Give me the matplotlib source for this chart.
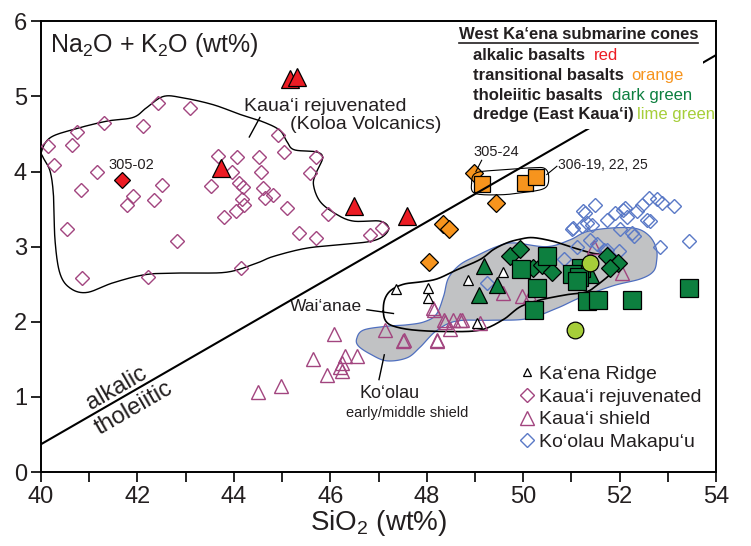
import numpy as np
import matplotlib
matplotlib.use("Agg")
import matplotlib.pyplot as plt
from matplotlib.lines import Line2D
from matplotlib.patches import Polygon, Rectangle
from matplotlib.ticker import MultipleLocator

plt.rcParams['font.family'] = ['Liberation Sans', 'DejaVu Sans']
plt.rcParams['mathtext.fontset'] = 'custom'
plt.rcParams['mathtext.rm'] = 'Liberation Sans'
plt.rcParams['mathtext.default'] = 'rm'

# ---------------- data ----------------
# Kaua'i rejuvenated (Koloa) - open purple diamonds
rej_x = [40.15, 40.26, 40.75, 40.65, 41.31, 42.11, 42.43, 43.09, 41.16, 40.83, 42.50, 41.91, 41.78,
         42.35, 40.53, 42.82, 40.84, 42.21, 44.15, 43.67, 44.06, 44.52, 44.91, 45.03, 45.71, 45.57,
         44.56, 43.97, 43.53, 44.11, 44.18, 44.60, 44.82, 44.65, 44.16, 44.21, 44.05, 43.80, 45.10,
         45.96, 45.35, 45.70, 46.83, 47.07]
rej_y = [4.34, 4.09, 4.52, 4.35, 4.64, 4.60, 4.91, 4.85, 4.00, 3.75, 3.82, 3.67, 3.55,
         3.62, 3.23, 3.08, 2.58, 2.59, 2.71, 4.21, 4.19, 4.20, 4.49, 4.26, 4.20, 3.98,
         3.99, 3.99, 3.81, 3.85, 3.80, 3.78, 3.69, 3.65, 3.63, 3.55, 3.48, 3.40, 3.52,
         3.43, 3.18, 3.11, 3.16, 3.25]

# Kaua'i shield - open purple triangles
shd_x = [46.07, 45.64, 45.93, 46.24, 46.31, 46.55, 46.20, 46.24, 44.97, 44.51, 47.14, 47.50, 48.15,
         48.22, 48.38, 48.49, 48.69, 49.11, 48.14, 48.35, 48.55, 48.73, 48.21, 47.52, 49.59, 49.97,
         50.15, 51.46, 52.05]
shd_y = [1.84, 1.50, 1.29, 1.45, 1.54, 1.54, 1.40, 1.34, 1.14, 1.06, 1.89, 1.75, 2.16,
         1.75, 2.00, 1.91, 2.03, 1.98, 2.18, 2.03, 2.03, 2.03, 1.76, 1.76, 2.38, 2.34,
         2.34, 3.00, 2.65]

# Ko'olau Makapu'u - open blue diamonds
mak_x = [51.49, 51.29, 51.01, 51.22, 51.43, 51.74, 51.91, 52.12, 52.15, 52.36, 52.46, 52.60, 52.77,
         52.88, 53.12, 52.63, 52.84, 53.43, 52.25, 52.01, 51.74, 51.98, 51.39, 50.84, 51.11, 51.25,
         51.04, 51.32, 49.25, 50.42, 51.53, 52.29, 52.56, 52.08, 51.67]
mak_y = [3.56, 3.45, 3.23, 3.27, 3.29, 3.36, 3.45, 3.52, 3.40, 3.47, 3.56, 3.65, 3.63,
         3.58, 3.54, 3.34, 3.00, 3.07, 3.18, 3.23, 2.96, 2.94, 3.09, 2.83, 3.00, 3.47,
         3.25, 3.32, 2.52, 2.74, 3.03, 3.14, 3.36, 3.49, 2.96]

# Ka'ena Ridge - open black triangles
kr_x = [47.37, 48.02, 48.02, 48.86, 49.59, 49.04]
kr_y = [2.44, 2.45, 2.32, 2.55, 2.66, 1.99]

# West Ka'ena submarine cones
alk_tri_x = [43.73, 45.17, 45.30, 46.50, 47.59]
alk_tri_y = [4.05, 5.23, 5.26, 3.54, 3.41]
alk_dia_x = [41.69]
alk_dia_y = [3.89]

tr_dia_x = [48.98, 49.43, 48.33, 48.47, 48.04]
tr_dia_y = [3.98, 3.58, 3.30, 3.23, 2.80]
tr_sq_x = [49.14, 50.04, 50.27]
tr_sq_y = [3.84, 3.85, 3.93]

th_tri_x = [49.18, 49.45, 49.09, 51.40]
th_tri_y = [2.74, 2.49, 2.36, 2.62]
th_dia_x = [49.73, 49.94, 50.21, 50.39, 50.60, 51.74, 51.96, 51.80]
th_dia_y = [2.87, 2.97, 2.72, 2.76, 2.66, 2.87, 2.78, 2.72]
th_sq_x = [49.95, 50.50, 50.28, 50.23, 51.20, 51.01, 51.15, 51.11, 51.32, 51.56, 52.25, 53.43]
th_sq_y = [2.70, 2.88, 2.45, 2.16, 2.72, 2.63, 2.60, 2.54, 2.27, 2.29, 2.29, 2.45]

dr_x = [51.39, 51.08]
dr_y = [2.78, 1.89]

# alkalic / tholeiitic dividing line
div_x = [40.0, 54.0]
div_y = [0.37, 5.55]

# field outlines (vertices)
koloa_x = [40.01, 40.19, 40.67, 41.36, 41.91, 42.19, 42.54, 42.95, 43.57, 44.13, 44.61, 44.95, 45.10,
           45.25, 45.72, 45.84, 45.72, 45.65, 45.79, 46.13, 46.48, 47.03, 47.21, 47.10, 46.83, 46.27,
           45.51, 44.82, 44.47, 43.85, 42.95, 42.19, 41.50, 40.95, 40.60, 40.39, 40.29, 40.26, 40.19, 40.05]
koloa_y = [4.27, 4.45, 4.56, 4.67, 4.72, 4.85, 5.00, 4.98, 4.89, 4.76, 4.66, 4.55, 4.40,
           4.29, 4.26, 4.18, 4.00, 3.83, 3.60, 3.43, 3.34, 3.34, 3.25, 3.14, 3.07, 3.03,
           2.98, 2.87, 2.78, 2.66, 2.65, 2.63, 2.52, 2.39, 2.45, 2.65, 3.09, 3.67, 4.00, 4.18]

waianae_x = [47.10, 47.13, 47.26, 47.52, 47.86, 48.21, 48.62, 49.11, 49.38, 49.66, 49.94, 50.21, 50.63,
             50.97, 51.46, 51.80, 52.02, 51.87, 51.60, 51.32, 50.90, 50.35, 49.94, 49.59, 49.11, 48.42,
             47.73, 47.32, 47.15]
waianae_y = [2.14, 2.30, 2.42, 2.50, 2.53, 2.57, 2.69, 2.83, 2.96, 3.05, 3.10, 3.12, 3.07,
             3.00, 2.91, 2.89, 2.80, 2.67, 2.52, 2.40, 2.36, 2.29, 2.20, 2.03, 1.89, 1.87,
             1.89, 1.94, 2.01]

koolau_x = [46.55, 46.69, 47.17, 47.60, 47.95, 48.20, 48.35, 48.45, 48.69, 49.04, 49.45, 49.80, 50.49,
            50.97, 51.32, 51.87, 52.35, 52.62, 52.76, 52.77, 52.70, 52.43, 51.87, 51.18, 50.70, 50.08,
            49.32, 48.62, 48.20, 47.86, 47.59, 47.17, 46.83, 46.58]
koolau_y = [1.78, 1.89, 1.94, 1.96, 2.00, 2.10, 2.34, 2.58, 2.76, 2.88, 3.00, 3.05, 3.00,
            3.09, 3.20, 3.25, 3.24, 3.14, 2.98, 2.82, 2.67, 2.57, 2.48, 2.32, 2.18, 2.04,
            2.02, 2.01, 1.88, 1.66, 1.52, 1.48, 1.57, 1.68]

pill_x = [48.93, 49.02, 49.50, 50.20, 50.45, 50.53, 50.45, 50.00, 49.50, 49.00]
pill_y = [3.84, 3.98, 4.02, 4.05, 4.04, 3.93, 3.78, 3.72, 3.69, 3.71]

x_ticks = [40, 42, 44, 46, 48, 50, 52, 54]
y_ticks = [0, 1, 2, 3, 4, 5, 6]

# ---------------- colours ----------------
PURPLE = '#a2457f'
BLUE = '#5a79c6'
RED = '#ec1c24'
ORANGE = '#f7941d'
DGREEN = '#0d7f3f'
LIME = '#a6ce39'
TXT = '#231f20'


def smooth_closed(xs, ys, n=16):
    xs = np.asarray(xs, float)
    ys = np.asarray(ys, float)
    m = len(xs)
    out_x, out_y = [], []
    t = np.linspace(0, 1, n, endpoint=False)
    for i in range(m):
        p0 = np.array([xs[i - 1], ys[i - 1]])
        p1 = np.array([xs[i], ys[i]])
        p2 = np.array([xs[(i + 1) % m], ys[(i + 1) % m]])
        p3 = np.array([xs[(i + 2) % m], ys[(i + 2) % m]])
        for tt in t:
            pt = 0.5 * ((2 * p1) + (-p0 + p2) * tt + (2 * p0 - 5 * p1 + 4 * p2 - p3) * tt ** 2
                        + (-p0 + 3 * p1 - 3 * p2 + p3) * tt ** 3)
            out_x.append(pt[0])
            out_y.append(pt[1])
    out_x.append(out_x[0])
    out_y.append(out_y[0])
    return np.array(out_x), np.array(out_y)


fig = plt.figure(figsize=(7.51, 5.46), dpi=100)
ax = fig.add_axes([0.0546, 0.1355, 0.8988, 0.8255])
ax.set_xlim(40, 54)
ax.set_ylim(0, 6)

# fields
kx, ky = smooth_closed(koolau_x, koolau_y)
ax.add_patch(Polygon(np.column_stack([kx, ky]), closed=True, facecolor='#c1c2c4',
                     edgecolor='#4f6fbf', lw=0.9, zorder=1))
lx, ly = smooth_closed(koloa_x, koloa_y)
ax.plot(lx, ly, color='black', lw=1.0, zorder=2)
wx, wy = smooth_closed(waianae_x, waianae_y)
ax.plot(wx, wy, color='black', lw=1.2, zorder=2.5)

# open reference data
ax.plot(shd_x, shd_y, ls='none', marker='^', ms=10.5, mfc='none', mec=PURPLE, mew=1.0, zorder=3)
ax.plot(rej_x, rej_y, ls='none', marker='D', ms=6.8, mfc='none', mec=PURPLE, mew=1.0, zorder=3)
ax.plot(mak_x, mak_y, ls='none', marker='D', ms=7.4, mfc='none', mec=BLUE, mew=1.0, zorder=3)
ax.plot(kr_x, kr_y, ls='none', marker='^', ms=7.5, mfc='white', mec='black', mew=0.9, zorder=4)

# West Ka'ena cones
ek = dict(ls='none', mec='black', mew=0.9, zorder=5)
ax.plot(alk_tri_x, alk_tri_y, marker='^', ms=12.5, mfc=RED, **ek)
ax.plot(alk_dia_x, alk_dia_y, marker='D', ms=8.5, mfc=RED, **ek)
ax.plot(tr_dia_x, tr_dia_y, marker='D', ms=9.0, mfc=ORANGE, **ek)
ax.plot(tr_sq_x, tr_sq_y, marker='s', ms=12, mfc=ORANGE, **ek)
ax.plot(th_tri_x, th_tri_y, marker='^', ms=12, mfc=DGREEN, **ek)
ax.plot(th_dia_x, th_dia_y, marker='D', ms=8.7, mfc=DGREEN, **ek)
ax.plot(th_sq_x, th_sq_y, marker='s', ms=12.5, mfc=DGREEN, **ek)
ax.plot(dr_x, dr_y, marker='o', ms=12, mfc=LIME, **ek)

# dividing line
ax.plot(div_x, div_y, color='black', lw=1.5, zorder=6)
px, py = smooth_closed(pill_x, pill_y)
ax.plot(px, py, color='black', lw=0.8, zorder=6)

# white block behind the header legend
ax.add_patch(Rectangle((48.5, 4.56), 53.72 - 48.5, 5.98 - 4.56, facecolor='white',
                       edgecolor='none', zorder=7))

# header legend
hdr = ax.text(48.66, 5.83, 'West Ka\u2018ena submarine cones', fontsize=12, fontweight='bold',
              color=TXT, ha='left', va='center', zorder=8)
rows = [('alkalic basalts', 5.54, 'red', RED, 51.46),
        ('transitional basalts', 5.28, 'orange', ORANGE, 52.25),
        ('tholeiitic basalts', 5.01, 'dark green', DGREEN, 51.84),
        ('dredge (East Kaua\u2018i)', 4.76, 'lime green', LIME, 52.36)]
for lab, yy, cname, col, cx in rows:
    ax.text(48.97, yy, lab, fontsize=12, fontweight='bold', color=TXT, ha='left', va='center', zorder=8)
    ax.text(cx, yy, cname, fontsize=12, color=col, ha='left', va='center', zorder=8)

fig.canvas.draw()
bb = hdr.get_window_extent().transformed(ax.transData.inverted())
ax.plot([bb.x0, bb.x1], [bb.y0 - 0.02, bb.y0 - 0.02], color=TXT, lw=1.2, zorder=8)

# annotations
ax.text(40.18, 5.69, 'Na$_2$O + K$_2$O (wt%)', fontsize=18, color=TXT, ha='left', va='center')
ax.text(44.20, 4.87, 'Kaua\u2018i rejuvenated', fontsize=14, color=TXT, ha='left', va='center')
ax.text(45.17, 4.62, '(Koloa Volcanics)', fontsize=14, color=TXT, ha='left', va='center')
ax.plot([44.54, 44.32], [4.72, 4.46], color='black', lw=1.0)
ax.text(41.88, 4.09, '305-02', fontsize=10.5, color=TXT, ha='center', va='center')
ax.text(49.45, 4.26, '305-24', fontsize=10.5, color=TXT, ha='center', va='center')
ax.plot([49.14, 49.02], [4.15, 4.00], color='black', lw=0.8, zorder=6)
ax.text(50.73, 4.09, '306-19, 22, 25', fontsize=10, color=TXT, ha='left', va='center')
ax.plot([50.70, 50.49], [4.07, 3.96], color='black', lw=0.8, zorder=6)
ax.text(45.91, 2.20, 'Wai\u2018anae', fontsize=12.5, color=TXT, ha='center', va='center')
ax.plot([46.76, 47.31], [2.16, 2.11], color='black', lw=1.0, zorder=6)
ax.text(47.22, 1.05, 'Ko\u2018olau', fontsize=13, color=TXT, ha='center', va='center')
ax.text(47.59, 0.78, 'early/middle shield', fontsize=10.5, color=TXT, ha='center', va='center')
ax.plot([47.01, 47.12], [1.23, 1.56], color='black', lw=1.0, zorder=6)

p0 = ax.transData.transform((div_x[0], div_y[0]))
p1 = ax.transData.transform((div_x[1], div_y[1]))
ang = np.degrees(np.arctan2(p1[1] - p0[1], p1[0] - p0[0]))
ax.text(41.57, 1.12, 'alkalic', fontsize=17, color=TXT, rotation=ang, ha='center', va='center',
        rotation_mode='anchor')
ax.text(41.92, 0.85, 'tholeiitic', fontsize=17, color=TXT, rotation=ang, ha='center', va='center',
        rotation_mode='anchor')

# lower-right legend
handles = [Line2D([], [], ls='none', marker='^', ms=6, mfc='white', mec='black', mew=0.9),
           Line2D([], [], ls='none', marker='D', ms=7, mfc='none', mec=PURPLE, mew=1.0),
           Line2D([], [], ls='none', marker='^', ms=10, mfc='none', mec=PURPLE, mew=1.0),
           Line2D([], [], ls='none', marker='D', ms=7, mfc='none', mec=BLUE, mew=1.0)]
labels = ['Ka\u2018ena Ridge', 'Kaua\u2018i rejuvenated', 'Kaua\u2018i shield', 'Ko\u2018olau Makapu\u2018u']
leg = ax.legend(handles, labels, loc='lower left', bbox_to_anchor=(0.711, 0.046), frameon=False,
                fontsize=14, handlelength=0.6, handletextpad=0.35, labelspacing=0.27,
                borderpad=0.0, borderaxespad=0.0)
for t in leg.get_texts():
    t.set_color(TXT)

# axes styling
ax.set_xticks(x_ticks)
ax.set_yticks(y_ticks)
ax.xaxis.set_minor_locator(MultipleLocator(1))
ax.tick_params(axis='both', which='both', direction='out', length=7, width=1.2,
               labelsize=17, colors='black', labelcolor=TXT, pad=3)
ax.tick_params(top=False, right=False)
for s in ax.spines.values():
    s.set_linewidth(1.4)
ax.set_xlabel('SiO$_2$ (wt%)', fontsize=20, color=TXT, labelpad=0)

fig.savefig('out.png', dpi=100)
